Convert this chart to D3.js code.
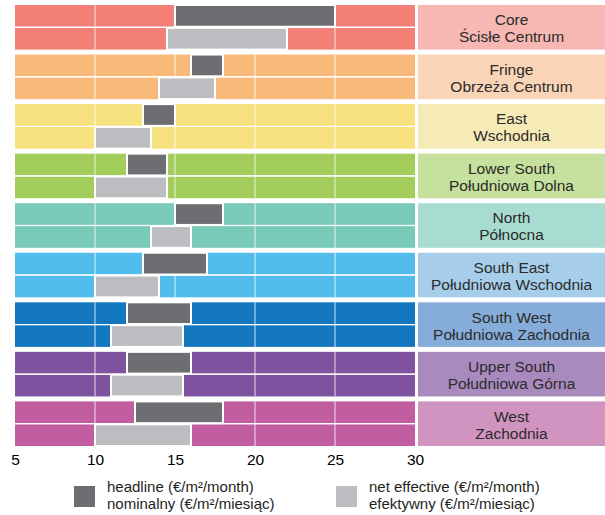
<!DOCTYPE html>
<html>
<head>
<meta charset="utf-8">
<script src="https://cdn.jsdelivr.net/npm/d3@7"></script>
<style>
  html, body { margin: 0; padding: 0; background: #fff; }
  svg { display: block; font-family: "Liberation Sans", Arial, Helvetica, sans-serif; }
</style>
</head>
<body>
<svg id="chart" width="605" height="515"></svg>
<script>
// Office rent ranges by district (€/m²/month)
const districts = ["Core", "Fringe", "East", "Lower South", "North", "South East", "South West", "Upper South", "West"];
const districtsPl = ["Ścisłe Centrum", "Obrzeża Centrum", "Wschodnia", "Południowa Dolna", "Północna", "Południowa Wschodnia", "Południowa Zachodnia", "Południowa Górna", "Zachodnia"];
const headlineMin = [15, 16, 13, 12, 15, 13, 12, 12, 12.5];
const headlineMax = [25, 18, 15, 14.5, 18, 17, 16, 16, 18];
const netMin = [14.5, 14, 10, 10, 13.5, 10, 11, 11, 10];
const netMax = [22, 17.5, 13.5, 14.5, 16, 14, 15.5, 15.5, 16];
const barColors = ["#F37F76", "#F9B978", "#F6E17E", "#A2CD5B", "#7ACAB9", "#52BDEC", "#1277BE", "#7F52A0", "#C15DA0"];
const labelColors = ["#F7B8B4", "#F9D4B6", "#F6EAB6", "#C6E09D", "#A8DCD0", "#A6CEEA", "#86ADDA", "#A98ABF", "#D193BF"];
const tickValues = [5, 10, 15, 20, 25, 30];
const seriesLabels = [
  ["headline (€/m²/month)", "nominalny (€/m²/miesiąc)"],
  ["net effective  (€/m²/month)", "efektywny (€/m²/miesiąc)"]
];
const seriesColors = ["#6D6E71", "#BCBDC0"];

const svg = d3.select("#chart");

const x = d3.scaleLinear().domain([5, 30]).range([15, 415]);
const y = d3.scaleBand().domain(districts).range([5, 446]).paddingInner(0.1).paddingOuter(0);
const sub = d3.scaleBand().domain([0, 1]).range([0, y.bandwidth()]).paddingInner(0.05);

const rows = districts.map((d, i) => ({
  name: d, pl: districtsPl[i], i,
  ranges: [[headlineMin[i], headlineMax[i]], [netMin[i], netMax[i]]]
}));

const g = svg.selectAll("g.district").data(rows).join("g")
  .attr("class", "district")
  .attr("transform", d => `translate(0,${y(d.name)})`);

// full-width coloured track for each series row
g.selectAll("rect.track").data(d => [0, 1].map(k => ({ k, i: d.i }))).join("rect")
  .attr("class", "track")
  .attr("x", x(5)).attr("width", x(30) - x(5))
  .attr("y", d => sub(d.k)).attr("height", sub.bandwidth())
  .attr("fill", d => barColors[d.i]);

// light vertical gridlines over the tracks
g.selectAll("line.grid").data(tickValues.slice(1, -1)).join("line")
  .attr("class", "grid")
  .attr("x1", d => x(d)).attr("x2", d => x(d))
  .attr("y1", 0).attr("y2", y.bandwidth())
  .attr("stroke", "#fff").attr("stroke-opacity", 0.4).attr("stroke-width", 2);

// white separator between the two series rows
g.append("rect")
  .attr("x", x(5)).attr("width", x(30) - x(5))
  .attr("y", sub(0) + sub.bandwidth()).attr("height", sub(1) - sub(0) - sub.bandwidth())
  .attr("fill", "#fff");

// range bars
g.selectAll("rect.range").data(d => d.ranges.map((r, k) => ({ r, k }))).join("rect")
  .attr("class", "range")
  .attr("x", d => x(d.r[0])).attr("width", d => x(d.r[1]) - x(d.r[0]))
  .attr("y", d => sub(d.k)).attr("height", sub.bandwidth())
  .attr("fill", d => seriesColors[d.k])
  .attr("stroke", "#fff").attr("stroke-width", 2);

// district label boxes
g.append("rect")
  .attr("x", 418).attr("width", 605 - 418)
  .attr("y", 0).attr("height", y.bandwidth())
  .attr("fill", d => labelColors[d.i]);

const lbl = g.append("text")
  .attr("x", 511.5)
  .attr("text-anchor", "middle")
  .attr("font-size", 15.5)
  .attr("fill", "#2B2B2B");
lbl.append("tspan").attr("x", 511.5).attr("y", y.bandwidth() / 2 - 2).text(d => d.name);
lbl.append("tspan").attr("x", 511.5).attr("y", y.bandwidth() / 2 + 15).text(d => d.pl);

// x axis labels
const axis = d3.axisBottom(x).tickValues(tickValues).tickSize(0).tickPadding(0);
const ax = svg.append("g").attr("transform", "translate(0,450)").call(axis);
ax.select(".domain").remove();
ax.selectAll("text")
  .attr("font-size", 15.5)
  .attr("font-family", "Liberation Sans, Arial, sans-serif")
  .attr("fill", "#000")
  .attr("dy", "0.95em");

// legend
const legendX = [74, 336];
const lg = svg.selectAll("g.legend").data(seriesLabels).join("g")
  .attr("class", "legend")
  .attr("transform", (d, k) => `translate(${legendX[k]},486)`);
lg.append("rect").attr("width", 21).attr("height", 21).attr("fill", (d, k) => seriesColors[k]);
const lt = lg.append("text").attr("font-size", 15).attr("fill", "#231F20");
lt.append("tspan").attr("x", 33).attr("y", 6).text(d => d[0]);
lt.append("tspan").attr("x", 33).attr("y", 23).text(d => d[1]);
</script>
</body>
</html>
